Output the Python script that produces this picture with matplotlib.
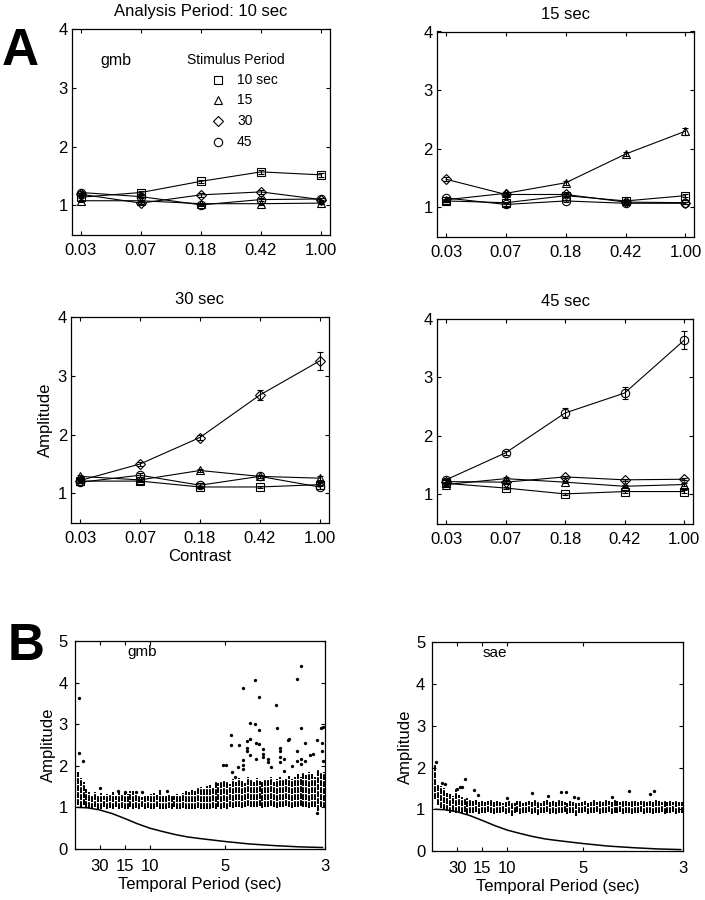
import matplotlib
matplotlib.use("Agg")
import matplotlib.pyplot as plt
import numpy as np

plt.rcParams['font.family'] = ['Liberation Sans', 'DejaVu Sans']

# ---------------- Panel A data ----------------
contrast_labels = ['0.03', '0.07', '0.18', '0.42', '1.00']
stim_labels = ['10 sec', '15', '30', '45']
stim_markers = ['s', '^', 'D', 'o']

# Analysis period 10 sec
p10_s10 = [1.14, 1.22, 1.41, 1.57, 1.52]
p10_s15 = [1.08, 1.08, 1.03, 1.03, 1.04]
p10_s30 = [1.19, 1.04, 1.18, 1.23, 1.10]
p10_s45 = [1.22, 1.15, 1.01, 1.10, 1.11]
p10_e10 = [0.02, 0.02, 0.03, 0.03, 0.03]
p10_e15 = [0.02, 0.02, 0.02, 0.02, 0.02]
p10_e30 = [0.02, 0.02, 0.03, 0.03, 0.02]
p10_e45 = [0.02, 0.02, 0.02, 0.03, 0.02]

# Analysis period 15 sec
p15_s10 = [1.11, 1.08, 1.20, 1.11, 1.20]
p15_s15 = [1.13, 1.24, 1.42, 1.91, 2.30]
p15_s30 = [1.48, 1.22, 1.22, 1.09, 1.08]
p15_s45 = [1.16, 1.05, 1.11, 1.07, 1.07]
p15_e10 = [0.02, 0.02, 0.02, 0.02, 0.03]
p15_e15 = [0.02, 0.03, 0.03, 0.04, 0.06]
p15_e30 = [0.03, 0.02, 0.02, 0.02, 0.02]
p15_e45 = [0.02, 0.02, 0.02, 0.02, 0.02]

# Analysis period 30 sec
p30_s10 = [1.21, 1.21, 1.11, 1.11, 1.15]
p30_s15 = [1.29, 1.23, 1.39, 1.29, 1.26]
p30_s30 = [1.22, 1.50, 1.95, 2.67, 3.25]
p30_s45 = [1.19, 1.31, 1.14, 1.29, 1.11]
p30_e10 = [0.02, 0.02, 0.02, 0.02, 0.02]
p30_e15 = [0.02, 0.02, 0.02, 0.02, 0.03]
p30_e30 = [0.03, 0.04, 0.05, 0.08, 0.15]
p30_e45 = [0.02, 0.03, 0.03, 0.03, 0.03]

# Analysis period 45 sec
p45_s10 = [1.19, 1.11, 1.01, 1.05, 1.05]
p45_s15 = [1.17, 1.27, 1.21, 1.14, 1.17]
p45_s30 = [1.22, 1.21, 1.30, 1.25, 1.26]
p45_s45 = [1.25, 1.71, 2.39, 2.73, 3.63]
p45_e10 = [0.02, 0.02, 0.02, 0.02, 0.02]
p45_e15 = [0.02, 0.02, 0.02, 0.02, 0.02]
p45_e30 = [0.02, 0.02, 0.02, 0.02, 0.02]
p45_e45 = [0.03, 0.04, 0.08, 0.10, 0.15]

panel_titles = ['Analysis Period: 10 sec', '15 sec', '30 sec', '45 sec']

# ---------------- Panel B data ----------------
record_sec = 256            # frequency resolution of the analysis (1/256 Hz)
period_ticks = [30, 15, 10, 5, 3]

gmb_hi = [1.85, 1.70, 1.62, 1.45, 1.36, 1.30, 1.38, 1.30, 1.35, 1.28,
          1.33, 1.30, 1.38, 1.28, 1.40, 1.30, 1.36, 1.32, 1.40, 1.40,
          1.30, 1.28, 1.25, 1.30, 1.27, 1.33, 1.35, 1.30, 1.42, 1.30,
          1.28, 1.32, 1.30, 1.27, 1.33, 1.30, 1.35, 1.40, 1.38, 1.42,
          1.40, 1.47, 1.50, 1.46, 1.52, 1.55, 1.50, 1.60, 1.58, 1.62,
          1.66, 1.60, 1.56, 1.68, 1.62, 1.70, 1.64, 1.58, 1.72, 1.66,
          1.60, 1.70, 1.64, 1.62, 1.68, 1.65, 1.72, 1.62, 1.68, 1.73,
          1.65, 1.70, 1.76, 1.68, 1.72, 1.80, 1.74, 1.82, 1.78, 1.86,
          1.80, 1.74, 1.90, 1.82, 1.86]
gmb_lo = [1.05, 1.02, 1.05, 1.00, 0.98, 0.95, 1.00, 0.97, 0.96, 1.00,
          0.97, 0.98, 0.95, 1.00, 0.96, 0.98, 0.95, 0.97, 1.00, 0.96,
          0.98, 0.97, 1.00, 0.96, 0.98, 0.95, 0.97, 1.00, 0.96, 0.97,
          0.95, 0.98, 0.96, 1.00, 0.97, 0.95, 0.98, 0.96, 0.95, 0.97,
          0.96, 0.98, 0.95, 0.97, 0.96, 0.95, 0.98, 0.97, 1.00, 0.96,
          0.98, 0.97, 1.00, 0.98, 1.00, 1.02, 0.98, 1.00, 1.03, 1.00,
          1.02, 1.00, 1.03, 0.98, 1.02, 1.00, 1.04, 1.00, 0.98, 1.02,
          1.00, 1.03, 1.00, 0.98, 1.02, 1.00, 1.03, 1.00, 1.02, 0.98,
          1.00, 1.02, 0.92, 1.00, 0.98]
gmb_out_f = [0.0057, 0.0057, 0.011, 0.033, 0.057, 0.067, 0.082, 0.089, 0.123,
             0.197, 0.202, 0.209, 0.208, 0.208, 0.213, 0.217, 0.219, 0.224, 0.224,
             0.224, 0.224, 0.230, 0.230, 0.230, 0.234, 0.234, 0.234, 0.240, 0.240,
             0.241, 0.241, 0.246, 0.246, 0.246, 0.251, 0.251, 0.251, 0.257, 0.257,
             0.262, 0.268, 0.270, 0.273, 0.273, 0.273, 0.273, 0.279, 0.279, 0.284,
             0.286, 0.290, 0.296, 0.296, 0.296, 0.301, 0.302, 0.302, 0.301, 0.307,
             0.307, 0.313, 0.317, 0.323, 0.328, 0.329, 0.329, 0.330, 0.330, 0.323]
gmb_out_a = [3.62, 2.32, 2.12, 1.46, 1.40, 1.36, 1.38, 1.38, 1.40,
             2.03, 2.03, 1.84, 2.75, 2.50, 1.74, 1.97, 2.51, 3.88, 2.13,
             2.03, 1.92, 2.60, 2.44, 2.36, 3.03, 2.64, 2.25, 4.06, 3.00,
             2.56, 2.17, 3.65, 2.87, 2.52, 2.20, 2.40, 2.28, 2.17, 2.09,
             1.97, 3.47, 2.91, 2.42, 2.36, 2.22, 2.08, 2.17, 1.88, 2.62,
             2.65, 1.99, 4.08, 2.36, 2.12, 2.17, 4.40, 2.92, 2.04, 2.56,
             2.12, 2.25, 2.29, 2.63, 2.91, 2.56, 2.36, 2.94, 2.12, 0.87]

sae_hi = [2.05, 1.60, 1.55, 1.50, 1.40, 1.36, 1.32, 1.48, 1.35, 1.30,
          1.28, 1.26, 1.22, 1.20, 1.22, 1.18, 1.20, 1.17, 1.20, 1.22,
          1.18, 1.20, 1.17, 1.15, 1.18, 1.20, 1.17, 1.15, 1.20, 1.22,
          1.15, 1.18, 1.20, 1.17, 1.22, 1.18, 1.15, 1.20, 1.22, 1.17,
          1.20, 1.18, 1.22, 1.20, 1.18, 1.15, 1.20, 1.17, 1.18, 1.15,
          1.18, 1.20, 1.15, 1.18, 1.22, 1.17, 1.20, 1.18, 1.22, 1.20,
          1.18, 1.22, 1.20, 1.17, 1.22, 1.20, 1.18, 1.22, 1.20, 1.17,
          1.20, 1.22, 1.18, 1.20, 1.17, 1.22, 1.20, 1.18, 1.20, 1.17,
          1.20, 1.18, 1.20, 1.17, 1.18]
sae_lo = [1.25, 1.10, 1.02, 0.98, 0.95, 0.92, 0.95, 0.90, 0.93, 0.90,
          0.93, 0.88, 0.92, 0.90, 0.93, 0.88, 0.91, 0.90, 0.93, 0.90,
          0.88, 0.92, 0.90, 0.93, 0.89, 0.92, 0.85, 0.90, 0.93, 0.88,
          0.92, 0.90, 0.93, 0.88, 0.91, 0.86, 0.92, 0.90, 0.93, 0.89,
          0.92, 0.88, 0.91, 0.90, 0.93, 0.88, 0.92, 0.90, 0.85, 0.92,
          0.90, 0.93, 0.88, 0.92, 0.90, 0.93, 0.89, 0.92, 0.90, 0.93,
          0.88, 0.92, 0.90, 0.93, 0.89, 0.92, 0.90, 0.88, 0.92, 0.90,
          0.93, 0.89, 0.92, 0.90, 0.88, 0.92, 0.90, 0.93, 0.89, 0.92,
          0.90, 0.93, 0.88, 0.92, 0.90]
sae_out_f = [0.0053, 0.013, 0.017, 0.033, 0.037, 0.039, 0.044, 0.055, 0.061,
             0.099, 0.133, 0.154, 0.171, 0.178, 0.188, 0.194, 0.239, 0.261,
             0.289, 0.294]
sae_out_a = [2.14, 1.63, 1.60, 1.49, 1.54, 1.54, 1.72, 1.46, 1.34,
             1.26, 1.40, 1.32, 1.41, 1.41, 1.30, 1.28, 1.30, 1.44,
             1.36, 1.44]

curve_freq = [0.004, 0.017, 0.033, 0.05, 0.067, 0.083, 0.10, 0.117, 0.133,
              0.15, 0.167, 0.20, 0.233, 0.267, 0.30, 0.33]
curve_amp = [1.00, 0.99, 0.94, 0.85, 0.73, 0.61, 0.50, 0.42, 0.35,
             0.29, 0.25, 0.18, 0.12, 0.08, 0.05, 0.035]

# ---------------- Figure ----------------
fig = plt.figure(figsize=(7.05, 9.0), dpi=100)

posA = [[0.102, 0.739, 0.366, 0.229],
        [0.620, 0.737, 0.365, 0.228],
        [0.101, 0.419, 0.365, 0.229],
        [0.620, 0.418, 0.363, 0.228]]
posB = [[0.106, 0.0567, 0.355, 0.231],
        [0.613, 0.0544, 0.356, 0.232]]


def style(ax, xpad, ypad):
    ax.tick_params(direction='in', top=True, right=True, length=3, width=0.8,
                   labelsize=12, colors='black')
    ax.tick_params(axis='x', pad=xpad)
    ax.tick_params(axis='y', pad=ypad)
    for s in ax.spines.values():
        s.set_linewidth(0.9)


def msize(mk):
    return 5.2 if mk == 'D' else 6.0


panels = [
    ([p10_s10, p10_s15, p10_s30, p10_s45], [p10_e10, p10_e15, p10_e30, p10_e45]),
    ([p15_s10, p15_s15, p15_s30, p15_s45], [p15_e10, p15_e15, p15_e30, p15_e45]),
    ([p30_s10, p30_s15, p30_s30, p30_s45], [p30_e10, p30_e15, p30_e30, p30_e45]),
    ([p45_s10, p45_s15, p45_s30, p45_s45], [p45_e10, p45_e15, p45_e30, p45_e45]),
]

xpos = np.arange(1, len(contrast_labels) + 1)
axesA = []
for i, (series, errs) in enumerate(panels):
    ax = fig.add_axes(posA[i])
    axesA.append(ax)
    for vals, err, mk in zip(series, errs, stim_markers):
        ax.errorbar(xpos, vals, yerr=err, color='black', lw=0.8, elinewidth=0.8,
                    capsize=2, capthick=0.8, marker=mk, ms=msize(mk), mfc='none',
                    mec='black', mew=0.8)
    ax.set_xlim(0.85, 5.15)
    ax.set_ylim(0.5, 4)
    ax.set_xticks(xpos)
    ax.set_xticklabels(contrast_labels)
    ax.set_yticks([1, 2, 3, 4])
    style(ax, 6, 3)
    ax.set_title(panel_titles[i], fontsize=12, pad=9)

# subject label and hand-placed key (legend layout)
axA = axesA[0]
axA.text(0.11, 0.845, 'gmb', transform=axA.transAxes, fontsize=11.5,
         ha='left', va='center')
axA.text(0.446, 0.850, 'Stimulus Period', transform=axA.transAxes,
         fontsize=10, ha='left', va='center')
key_rows = [0.752, 0.655, 0.553, 0.451]
for lab, mk, ky in zip(stim_labels, stim_markers, key_rows):
    axA.plot([0.566], [ky], transform=axA.transAxes, ls='none', marker=mk,
             ms=msize(mk), mfc='none', mec='black', mew=0.8, clip_on=False)
    axA.text(0.640, ky, lab, transform=axA.transAxes, fontsize=10,
             ha='left', va='center')

axesA[2].set_ylabel('Amplitude', fontsize=12)
axesA[2].yaxis.set_label_coords(-0.07, 0.5)
axesA[2].set_xlabel('Contrast', fontsize=12)
axesA[2].xaxis.set_label_coords(0.5, -0.128)

# ---------------- Panel B ----------------
b_sets = [(gmb_lo, gmb_hi, gmb_out_f, gmb_out_a, 'gmb', 0.268),
          (sae_lo, sae_hi, sae_out_f, sae_out_a, 'sae', 0.251)]
for j, (lo, hi, of, oa, name, tx) in enumerate(b_sets):
    ax = fig.add_axes(posB[j])
    harmonic = np.arange(1, len(lo) + 1)
    freq = harmonic / record_sec
    ax.vlines(freq, lo, hi, colors='black', linewidth=1.4,
              linestyles=(0, (3.0, 0.6)))
    ax.plot(of, oa, ls='none', marker='o', ms=2.4, mfc='black', mec='black',
            mew=0)
    ax.plot(curve_freq, curve_amp, color='black', lw=1.1)
    ax.set_xlim(0, 1 / 3)
    ax.set_ylim(0, 5)
    ax.set_xticks([1 / p for p in period_ticks])
    ax.set_xticklabels([str(p) for p in period_ticks])
    ax.set_yticks([0, 1, 2, 3, 4, 5])
    style(ax, 7, 5)
    ax.text(tx, 0.947, name, transform=ax.transAxes, fontsize=11,
            ha='center', va='center')
    ax.set_ylabel('Amplitude', fontsize=12)
    ax.yaxis.set_label_coords(-0.076, 0.5)
    ax.set_xlabel('Temporal Period (sec)', fontsize=12)
    ax.xaxis.set_label_coords(0.5, -0.135)

fig.text(0.003, 1 - 65 / 900, 'A', fontsize=37, fontweight='bold',
         ha='left', va='baseline')
fig.text(0.011, 1 - 660 / 900, 'B', fontsize=37, fontweight='bold',
         ha='left', va='baseline')

fig.savefig('out.png', dpi=100)
